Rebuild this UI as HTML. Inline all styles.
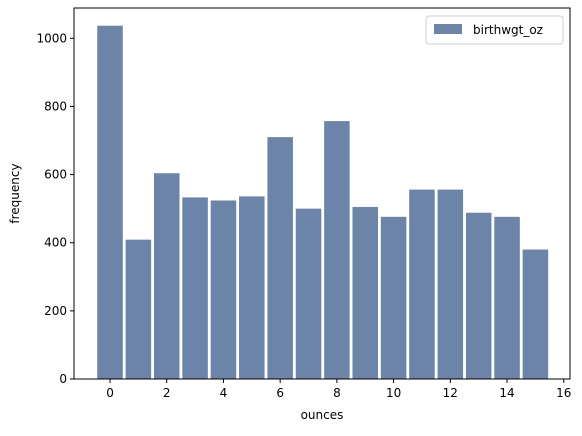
<!DOCTYPE html>
<html><head><meta charset="utf-8"><style>
body{margin:0;background:#fff;font-family:"DejaVu Sans",sans-serif;}
svg text{font-family:"DejaVu Sans","Liberation Sans",sans-serif;fill:#000;}
</style></head><body>
<svg id="chart" width="582" height="432"></svg>
<script>
const categories=[0,1,2,3,4,5,6,7,8,9,10,11,12,13,14,15];
const values=[1037,409,604,533,524,536,710,500,757,505,476,556,556,488,476,380];
const xTicks=[0,2,4,6,8,10,12,14,16];
const yTicks=[0,200,400,600,800,1000];
const L=74,R=570,T=8,B=379;
const xmin=-1.27,xmax=16.22,ymax=1089;
const sx=v=>L+(v-xmin)/(xmax-xmin)*(R-L);
const sy=v=>B-v/ymax*(B-T);
const svg=document.getElementById('chart');
const NS='http://www.w3.org/2000/svg';
function mk(t,a){const e=document.createElementNS(NS,t);for(const k in a)e.setAttribute(k,a[k]);svg.appendChild(e);return e;}
categories.forEach((c,i)=>{
const r=mk('rect',{x:sx(c-0.45),y:sy(values[i]),width:sx(c+0.45)-sx(c-0.45),height:sy(0)-sy(values[i]),fill:'#6b84a8'});


});
const fr=mk('rect',{x:L,y:T,width:R-L,height:B-T,fill:'none',stroke:'#000','stroke-width':1});


xTicks.forEach(t=>{
mk('line',{x1:sx(t),x2:sx(t),y1:B,y2:B+4,stroke:'#000'});
const tx=mk('text',{x:sx(t),y:B+18,'text-anchor':'middle','font-size':12});
tx.textContent=t;


});
yTicks.forEach(t=>{
mk('line',{x1:L-4,x2:L,y1:sy(t),y2:sy(t),stroke:'#000'});
const tx=mk('text',{x:L-7,y:sy(t)+4,'text-anchor':'end','font-size':12});
tx.textContent=t;


});
const xl=mk('text',{x:(L+R)/2,y:419,'text-anchor':'middle','font-size':12});
xl.textContent='ounces';


const yl=mk('text',{x:0,y:0,'text-anchor':'middle','font-size':12,transform:`translate(19,${(T+B)/2}) rotate(-90)`});
yl.textContent='frequency';


const lg=mk('rect',{x:426,y:16,width:137,height:28,fill:'#fff',stroke:'#ccc',rx:3});


const sw=mk('rect',{x:434,y:24,width:28,height:10,fill:'#6b84a8'});


const lt=mk('text',{x:473,y:34,'font-size':12});
lt.textContent='birthwgt_oz';


</script>
</body></html>
